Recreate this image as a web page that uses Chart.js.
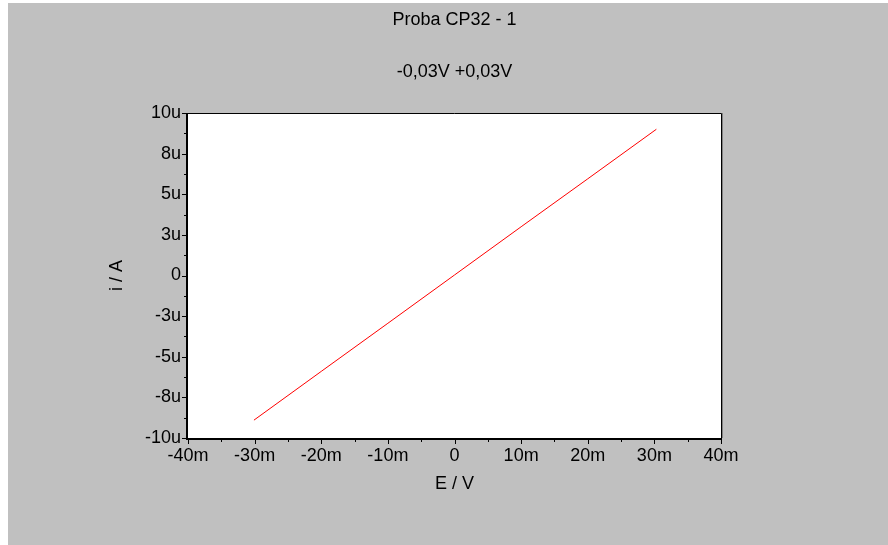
<!DOCTYPE html>
<html>
<head>
<meta charset="utf-8">
<script src="https://cdn.jsdelivr.net/npm/chart.js@4/dist/chart.umd.min.js"></script>
<style>
  html, body { margin: 0; padding: 0; background: #ffffff; width: 888px; height: 545px; overflow: hidden; }
  #wrap { position: absolute; left: 8px; top: 3px; width: 880px; height: 542px; background: #c0c0c0; }
  canvas { display: block; }
</style>
</head>
<body>
<div id="wrap"><canvas id="c" width="880" height="542"></canvas></div>
<script>
// ---- data (E in mV, i in µA) ----
const potentialMV = [-30.1, -20, -10, 0, 10, 20, 30.3];
const currentUA   = [-8.9, -5.9, -2.94, 0.03, 3.0, 5.95, 9.0];
const xTickLabels = ['-40m', '-30m', '-20m', '-10m', '0', '10m', '20m', '30m', '40m'];
const yTickLabels = ['-10u', '-8u', '-5u', '-3u', '0', '3u', '5u', '8u', '10u'];
const chartTitle = 'Proba CP32 - 1';
const chartSubtitle = '-0,03V +0,03V';
const xTitle = 'E / V';
const yTitle = 'i / A';

const FONT = "'Liberation Sans', Arial, sans-serif";

const points = potentialMV.map((e, k) => ({ x: e, y: currentUA[k] }));

const frame = {
  id: 'frame',
  beforeDatasetsDraw(chart) {
    const { ctx, chartArea: a } = chart;
    ctx.save();
    ctx.fillStyle = '#ffffff';
    ctx.fillRect(a.left, a.top, a.right - a.left, a.bottom - a.top);
    ctx.restore();
  },
  afterDatasetsDraw(chart) {
    const { ctx, chartArea: a, scales } = chart;
    ctx.save();
    ctx.strokeStyle = '#000000';
    ctx.lineWidth = 1;
    ctx.beginPath();
    ctx.moveTo(a.left, a.top + 0.5);
    ctx.lineTo(a.right + 0.5, a.top + 0.5);
    ctx.lineTo(a.right + 0.5, a.bottom);
    ctx.stroke();
    ctx.strokeStyle = '#808080';
    ctx.beginPath();
    ctx.moveTo(a.right + 1.5, a.top);
    ctx.lineTo(a.right + 1.5, a.bottom);
    ctx.stroke();
    ctx.strokeStyle = '#000000';
    ctx.lineWidth = 2;
    ctx.beginPath();
    ctx.moveTo(a.left - 1, a.top);
    ctx.lineTo(a.left - 1, a.bottom + 1);
    ctx.lineTo(a.right + 1, a.bottom + 1);
    ctx.stroke();
    ctx.lineWidth = 1;
    const xs = scales.x, ys = scales.y;
    const xt = xs.ticks.map(t => t.value);
    const yt = ys.ticks.map(t => t.value);
    ctx.beginPath();
    xt.forEach((v, k) => {
      const px = Math.round(xs.getPixelForValue(v)) + 0.5;
      ctx.moveTo(px, a.bottom); ctx.lineTo(px, a.bottom + 6);
      if (k < xt.length - 1) {
        const pm = Math.round(xs.getPixelForValue((v + xt[k + 1]) / 2)) + 0.5;
        ctx.moveTo(pm, a.bottom); ctx.lineTo(pm, a.bottom + 4);
      }
    });
    yt.forEach((v, k) => {
      const py = Math.round(ys.getPixelForValue(v)) + 0.5;
      ctx.moveTo(a.left, py); ctx.lineTo(a.left - 6, py);
      if (k < yt.length - 1) {
        const pm = Math.round(ys.getPixelForValue((v + yt[k + 1]) / 2)) + 0.5;
        ctx.moveTo(a.left, pm); ctx.lineTo(a.left - 4, pm);
      }
    });
    ctx.stroke();
    ctx.restore();
  }
};

new Chart(document.getElementById('c'), {
  type: 'line',
  data: {
    datasets: [{
      data: points,
      borderColor: '#ff0000',
      borderWidth: 1,
      pointRadius: 0,
      tension: 0,
      fill: false
    }]
  },
  options: {
    responsive: false,
    animation: false,
    layout: { padding: { left: 0, right: 167, top: 0, bottom: 0 } },
    plugins: {
      legend: { display: false },
      tooltip: { enabled: false },
      title: {
        display: true, text: chartTitle, color: '#000000', fullSize: false,
        font: { family: FONT, size: 18, weight: 'normal' },
        padding: { top: 6.2, bottom: 0 }
      },
      subtitle: {
        display: true, text: chartSubtitle, color: '#000000', fullSize: false,
        font: { family: FONT, size: 18, weight: 'normal' },
        padding: { top: 30.4, bottom: 30.2 }
      }
    },
    scales: {
      x: {
        type: 'linear', min: -40, max: 40,
        grid: { display: false, drawTicks: false },
        border: { display: false },
        ticks: {
          stepSize: 10, color: '#000000', padding: 7, maxRotation: 0, autoSkip: false,
          font: { family: FONT, size: 18 },
          callback: (v, i) => xTickLabels[i]
        },
        title: {
          display: true, text: xTitle, color: '#000000',
          font: { family: FONT, size: 18 },
          padding: { top: 0, bottom: 50.2 }
        },
        afterFit: (s) => { s.height = 107; }
      },
      y: {
        type: 'linear', min: -10, max: 10,
        grid: { display: false, drawTicks: false },
        border: { display: false },
        ticks: {
          stepSize: 2.5, color: '#000000', padding: 7, autoSkip: false,
          font: { family: FONT, size: 18 },
          callback: (v, i) => yTickLabels[i]
        },
        title: {
          display: true, text: yTitle, color: '#000000',
          font: { family: FONT, size: 18 },
          padding: { top: 98.2, bottom: 0 }
        },
        afterFit: (s) => { s.width = 180; }
      }
    }
  },
  plugins: [frame]
});
</script>
</body>
</html>
